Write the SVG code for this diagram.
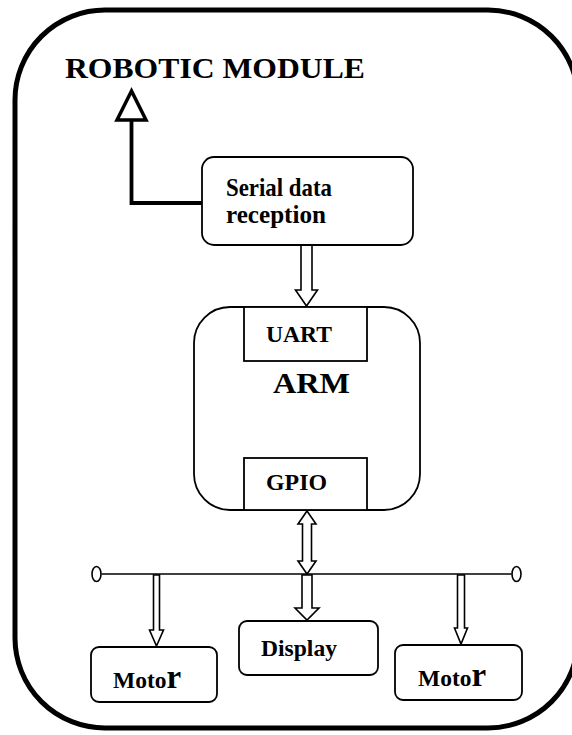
<svg xmlns="http://www.w3.org/2000/svg" width="572" height="735" viewBox="0 0 572 735">
<style>
.box{fill:#fff;stroke:#000;stroke-width:1.8}
.blk{fill:#fff;stroke:#000;stroke-width:1.6;stroke-linejoin:miter}
.t{font-family:"Liberation Serif","Times New Roman",serif;font-weight:bold;fill:#000}
.s23{font-size:23.5px}
</style>
<rect width="572" height="735" fill="#fff"/>
<g id="module">
<rect x="15" y="10" width="563" height="718" rx="90" ry="90" fill="none" stroke="#000" stroke-width="5"/>
<text class="t" x="65" y="78" font-size="29" textLength="300" lengthAdjust="spacingAndGlyphs">ROBOTIC MODULE</text>
</g>
<g id="connectors">
<path d="M202 203 H131.5 V120" fill="none" stroke="#000" stroke-width="3.8"/>
<polygon points="131.5,91 117,120 146,120" fill="#fff" stroke="#000" stroke-width="3.5"/>
<polygon class="blk" points="301,245 312,245 312,290 317.5,290 306.5,306 295.5,290 301,290"/>
<polygon class="blk" points="307,511 316,524 311.5,524 311.5,561 316,561 307,574 298,561 302.5,561 302.5,524 298,524"/>
<line x1="101.5" y1="574" x2="511.5" y2="574" stroke="#000" stroke-width="1.6"/>
<ellipse cx="96.5" cy="574" rx="4.5" ry="7.5" fill="#fff" stroke="#000" stroke-width="1.6"/>
<ellipse cx="516.5" cy="574" rx="4.5" ry="7.5" fill="#fff" stroke="#000" stroke-width="1.6"/>
<polygon class="blk" points="153.5,575 159.5,575 159.5,630 163.5,630 156.5,646 149.5,630 153.5,630"/>
<polygon class="blk" points="302,575 312,575 312,608 319,608 307,620 295,608 302,608"/>
<polygon class="blk" points="457.5,575 464.5,575 464.5,628 467.5,628 461,644 454.5,628 457.5,628"/>
</g>
<g id="serial">
<rect class="box" x="202" y="157" width="211" height="88" rx="12"/>
<text class="t" x="226" y="196" font-size="25" textLength="106" lengthAdjust="spacingAndGlyphs">Serial data</text>
<text class="t" x="226" y="223" font-size="25" textLength="100" lengthAdjust="spacingAndGlyphs">reception</text>
</g>
<g id="arm">
<rect class="box" x="194" y="307" width="226" height="203" rx="36"/>
<text class="t" x="273" y="393" font-size="29" textLength="77" lengthAdjust="spacingAndGlyphs">ARM</text>
</g>
<g id="uart">
<rect class="box" x="244" y="307" width="123" height="54"/>
<text class="t s23" x="266" y="342" textLength="66" lengthAdjust="spacingAndGlyphs">UART</text>
</g>
<g id="gpio">
<rect class="box" x="244" y="458" width="123" height="52"/>
<text class="t s23" x="266" y="490" textLength="61" lengthAdjust="spacingAndGlyphs">GPIO</text>
</g>
<g id="motor1">
<rect class="box" x="91" y="647" width="126" height="55" rx="8"/>
<text class="t s23" x="113" y="688">Moto<tspan font-size="33">r</tspan></text>
</g>
<g id="display">
<rect class="box" x="239" y="621" width="139" height="54" rx="8"/>
<text class="t s23" x="261" y="656" textLength="76" lengthAdjust="spacingAndGlyphs">Display</text>
</g>
<g id="motor2">
<rect class="box" x="395" y="645" width="127" height="55" rx="8"/>
<text class="t s23" x="418" y="686">Moto<tspan font-size="33">r</tspan></text>
</g>
</svg>
